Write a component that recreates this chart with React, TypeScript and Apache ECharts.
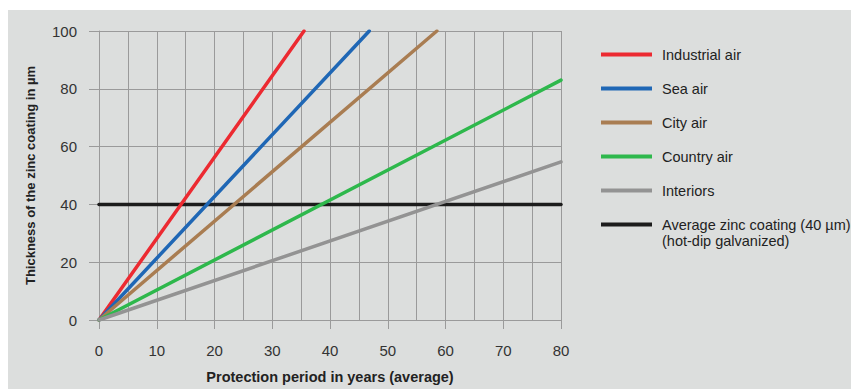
import React, { useEffect, useRef } from "react";
import * as echarts from "echarts";

const seriesNames = [
  "Industrial air",
  "Sea air",
  "City air",
  "Country air",
  "Interiors",
  "Average zinc coating (40 µm)",
];
const seriesColors = ["#ec2a31", "#1f67b5", "#a97d52", "#2eb84c", "#939393", "#1c1c1c"];
// each line: [x0, y0, x1, y1]
const industrialAir = [[0, 0], [35.5, 100]];
const seaAir = [[0, 0], [46.8, 100]];
const cityAir = [[0, 0], [58.5, 100]];
const countryAir = [[0, 0], [80, 83]];
const interiors = [[0, 0], [80, 54.7]];
const averageCoating = [[0, 40], [80, 40]];
const seriesData = [industrialAir, seaAir, cityAir, countryAir, interiors, averageCoating];
const xTicks = [0, 10, 20, 30, 40, 50, 60, 70, 80];
const yTicks = [0, 20, 40, 60, 80, 100];

const FONT = "'Liberation Sans', Arial, sans-serif";

export default function App() {
  const ref = useRef<HTMLDivElement>(null);
  useEffect(() => {
    if (!ref.current) return;
    const chart = echarts.init(ref.current, undefined, { renderer: "svg" });
    const gridColor = "#9a9a9a";
    chart.setOption({
      animation: false,
      backgroundColor: "#dcdedd",
      textStyle: { fontFamily: FONT },
      grid: { left: 91, right: 298, top: 21, bottom: 69 },
      xAxis: {
        type: "value",
        min: xTicks[0],
        max: xTicks[xTicks.length - 1],
        interval: 10,
        name: "Protection period in years (average)",
        nameLocation: "middle",
        nameGap: 49,
        nameTextStyle: { fontFamily: FONT, fontWeight: "bold", fontSize: 14.5, color: "#222" },
        axisLine: { show: true, lineStyle: { color: gridColor, width: 1 } },
        axisTick: { show: true, length: 9, lineStyle: { color: gridColor } },
        axisLabel: { fontFamily: FONT, fontSize: 15, color: "#333", margin: 23 },
        splitLine: { show: true, lineStyle: { color: gridColor, width: 1 } },
        minorTick: { show: false, splitNumber: 2 },
        minorSplitLine: { show: true, lineStyle: { color: gridColor, width: 1 } },
      },
      yAxis: {
        type: "value",
        min: yTicks[0],
        max: yTicks[yTicks.length - 1],
        interval: 20,
        name: "Thickness of the zinc coating in µm",
        nameLocation: "middle",
        nameGap: 62,
        nameTextStyle: { fontFamily: FONT, fontWeight: "bold", fontSize: 13, color: "#222" },
        axisLine: { show: true, lineStyle: { color: gridColor, width: 1 } },
        axisTick: { show: true, length: 10, lineStyle: { color: gridColor } },
        axisLabel: { fontFamily: FONT, fontSize: 15, color: "#333", margin: 22 },
        splitLine: { show: true, lineStyle: { color: gridColor, width: 1 } },
      },
      legend: {
        orient: "vertical",
        left: 588,
        top: 32,
        itemWidth: 51,
        itemHeight: 14,
        itemGap: 19,
        icon: "path://M0,0 L51,0 L51,4 L0,4 Z",
        textStyle: { fontFamily: FONT, fontSize: 14.5, color: "#222", padding: [0, 0, 0, 5] },
        data: seriesNames.map((n, i) => ({ name: n, itemStyle: { color: seriesColors[i] } })),
      },
      graphic: [
        {
          type: "text",
          left: 654,
          top: 223,
          style: { text: "(hot-dip galvanized)", font: `14.5px ${FONT}`, fill: "#222" },
        },
      ],
      series: seriesNames.map((n, i) => ({
        name: n,
        type: "line",
        data: seriesData[i],
        symbol: "none",
        color: seriesColors[i],
        lineStyle: { color: seriesColors[i], width: 3.5, cap: "round" },
        z: i === 5 ? 1 : 3,
      })),
    });
    return () => chart.dispose();
  }, []);
  return <div ref={ref} style={{ width: 851, height: 379, marginTop: 2 }} />;
}
